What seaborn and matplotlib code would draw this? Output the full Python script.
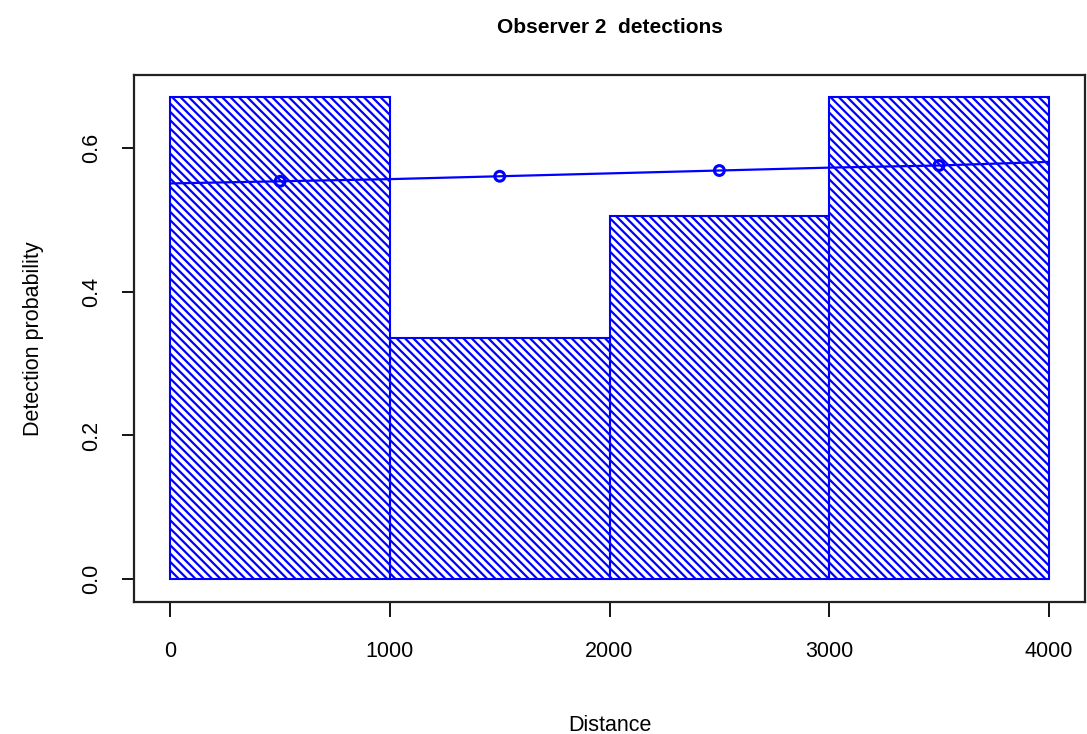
import numpy as np
import pandas as pd
import matplotlib
matplotlib.use('Agg')
import matplotlib.pyplot as plt
import seaborn as sns

# histogram of observed detection proportions per distance bin
bin_edges = [0, 1000, 2000, 3000, 4000]
bin_mids = [500, 1500, 2500, 3500]
bin_props = [0.671, 0.336, 0.505, 0.671]

# fitted detection probability curve
curve_x = [0, 500, 1000, 1500, 2000, 2500, 3000, 3500, 4000]
curve_y = [0.551, 0.554, 0.557, 0.561, 0.565, 0.569, 0.573, 0.576, 0.581]

# fitted values at bin midpoints
point_x = [500, 1500, 2500, 3500]
point_y = [0.554, 0.561, 0.569, 0.576]

sns.set_style('white')
plt.rcParams['font.family'] = ['Liberation Sans', 'DejaVu Sans']
plt.rcParams['hatch.linewidth'] = 1.6
plt.rcParams['text.color'] = 'black'
plt.rcParams['axes.labelcolor'] = 'black'

fig = plt.figure(figsize=(10.87, 7.34), dpi=100)
ax = fig.add_axes([0.1233, 0.1798, 0.8749, 0.718])

hist_df = pd.DataFrame({'x': bin_mids, 'w': bin_props})
sns.histplot(data=hist_df, x='x', weights='w', bins=bin_edges, stat='count',
             ax=ax, fill=True, color='blue', linewidth=1.5)
for p in ax.patches:
    p.set_facecolor('none')
    p.set_edgecolor('blue')
    p.set_hatch('\\\\\\\\')
    p.set_linewidth(1.5)

sns.lineplot(x=curve_x, y=curve_y, ax=ax, color='blue', linewidth=1.6)
ax.scatter(point_x, point_y, s=50, facecolors='none', edgecolors='blue',
           linewidths=2.2, zorder=5)

ax.set_xlim(-165, 4165)
ax.set_ylim(-0.032, 0.702)
ax.set_xticks([0, 1000, 2000, 3000, 4000])
ax.set_yticks([0.0, 0.2, 0.4, 0.6])
ax.set_yticklabels(['0.0', '0.2', '0.4', '0.6'], rotation=90, va='center')
ax.tick_params(axis='both', direction='out', length=9, width=1.3,
               colors='black', labelsize=15.5, bottom=True, left=True)
ax.tick_params(axis='x', length=11, pad=17)
ax.tick_params(axis='y', pad=14)
for s in ax.spines.values():
    s.set_visible(True)
    s.set_color('#222222')
    s.set_linewidth(1.6)

ax.set_xlabel('Distance', fontsize=15.5, labelpad=38)
ax.set_ylabel('Detection probability', fontsize=15.5, labelpad=27)
fig.text(0.5607, 0.963, 'Observer 2  detections', ha='center', va='center',
         fontsize=15, fontweight='bold')

fig.savefig('out.png', dpi=100)
